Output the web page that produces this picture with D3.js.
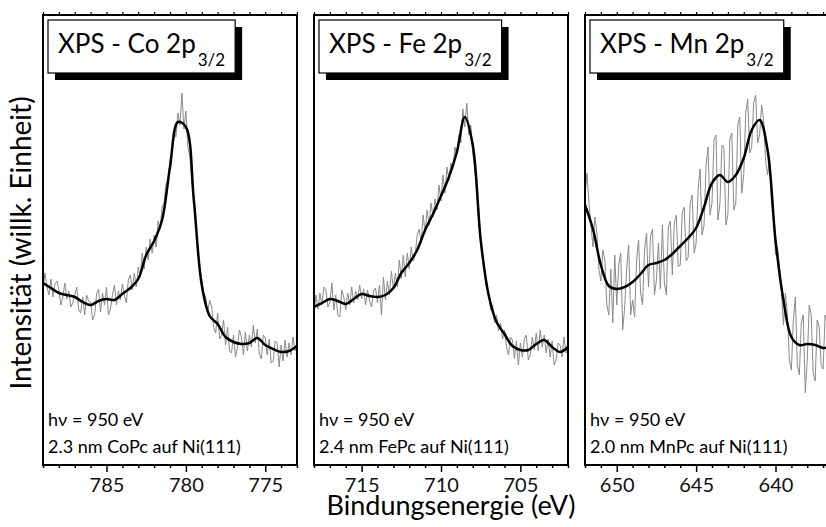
<!DOCTYPE html>
<html>
<head>
<meta charset="utf-8">
<script src="https://cdn.jsdelivr.net/npm/d3@7"></script>
<style>
  html, body { margin: 0; padding: 0; background: #fff; }
  svg { display: block; font-family: Lato, "Open Sans", sans-serif; }
</style>
</head>
<body>
<svg id="chart" width="826" height="527"></svg>
<script>
// ---- spectra: three XPS 2p3/2 core levels, hv = 950 eV ----
const elements = ["Co", "Fe", "Mn"];
const sampleLabels = ["2.3 nm CoPc auf Ni(111)", "2.4 nm FePc auf Ni(111)", "2.0 nm MnPc auf Ni(111)"];
const photonLabel = "hν = 950 eV";
const xTitle = "Bindungsenergie (eV)";
const yTitle = "Intensität (willk. Einheit)";

// binding-energy window of each panel (high -> low)
const energyHigh = [789, 718, 652];
const energyLow  = [773, 702, 636];
const majorTicks = [[785, 780, 775], [715, 710, 705], [650, 645, 640]];

const rawStep = 0.125; // eV, measured points
const fitStep = 0.5;   // eV, smoothed curve

// measured intensity (arb. units), starting at energyHigh
const coRaw = [176,192,178,170,186,168,181,184, 175,160,168,182,166,174,158,162,
  170,178,155,152,168,150,170,164, 163,145,150,171,176,153,172,160,
  178,150,156,170,180,160,174,165, 181,170,162,185,190,175,192,178,
  198,188,212,196,218,205,226,212, 230,218,244,236,258,262,281,285,
  305,312,333,328,352,340,372,336, 354,318,308,282,270,242,220,196,
  186,172,168,152,165,158,138,132, 152,126,130,145,120,138,114,112,
  130,108,118,135,128,110,133,114, 130,118,140,122,136,112,106,130,
  127,110,126,102,104,124,122,98, 120,104,125,108,122,110,128,114, 124];
const coFit = [182,177,172,170,168,163,160,164,166,165,171,177,186,210,224,245,
  298,343,338,265,180,149,141,128,123,121,122,127,120,116,113,114,119];

const feRaw = [150,170,156,172,160,178,175,158, 162,182,155,170,150,148,175,168,
  155,172,160,178,162,174,165,180, 166,176,160,175,164,158,174,177,
  162,180,150,188,165,184,170,194, 176,192,178,205,186,210,188,212,
  196,218,204,210,230,236,222,250, 232,255,240,262,248,266,255,280,
  264,290,272,298,285,302,296,318, 310,330,322,356,338,362,330,340,
  312,296,272,258,222,205,192,176, 172,155,160,142,150,134,142,126,
  135,118,110,128,125,106,124,100, 122,108,126,130,105,110,128,115,
  132,114,135,118,130,112,126,108, 124,100,105,122,120,108,128,112, 122];
const feFit = [158,162,166,164,161,166,171,169,168,170,177,192,202,215,235,251,
  269,288,313,348,320,225,170,143,131,119,115,115,121,125,118,113,118];

const mnRaw = [270,292,262,240,218,248,232,196, 184,215,205,160,150,196,142,210,
  160,200,212,135,158,196,220,150, 165,148,205,225,172,160,215,232,
  178,228,236,170,185,222,176,240, 182,170,238,244,190,242,250,198,
  200,252,258,204,208,262,270,212, 222,275,296,230,240,300,318,250,
  262,325,330,245,262,320,318,240, 250,326,332,255,262,340,348,272,
  290,352,366,312,318,362,370,322, 330,360,345,305,290,308,262,248,
  210,218,198,175,140,172,150,105, 95,145,168,100,90,142,150,72,
  105,160,150,92,84,145,138,100, 96,150,140,102,98,135,140,104, 110];
const mnFit = [260,236,200,179,176,178,183,191,200,202,205,211,219,227,237,258,
  282,290,283,290,307,335,345,315,225,165,128,120,121,120,117,118,118];

const rawSeries = [coRaw, feRaw, mnRaw];
const fitSeries = [coFit, feFit, mnFit];

// ---- layout ----
const svg = d3.select("#chart");
const panelLeft = [43, 314, 585];
const panelWidth = 254;
const plotTop = 15, plotBottom = 465;
const y = d3.scaleLinear().domain([0, 450]).range([plotBottom, plotTop]);

const toPoints = (vals, e0, step) => vals.map((v, i) => ({ e: e0 - i * step, v }));

elements.forEach((el, p) => {
  const x0 = panelLeft[p];
  const x = d3.scaleLinear().domain([energyHigh[p], energyLow[p]]).range([x0, x0 + panelWidth]);
  const g = svg.append("g");

  const clipId = "clip" + p;
  svg.append("clipPath").attr("id", clipId)
    .append("rect").attr("x", x0).attr("y", plotTop).attr("width", panelWidth).attr("height", plotBottom - plotTop);

  const line = d3.line().x(d => x(d.e)).y(d => y(d.v));

  // measured data
  g.append("path")
    .datum(toPoints(rawSeries[p], energyHigh[p], rawStep))
    .attr("clip-path", `url(#${clipId})`)
    .attr("fill", "none").attr("stroke", "#8a8a8a").attr("stroke-width", 1)
    .attr("stroke-linejoin", "round")
    .attr("d", line);

  // smoothed curve
  g.append("path")
    .datum(toPoints(fitSeries[p], energyHigh[p], fitStep))
    .attr("clip-path", `url(#${clipId})`)
    .attr("fill", "none").attr("stroke", "#000").attr("stroke-width", 2.5)
    .attr("stroke-linejoin", "round")
    .attr("d", line.curve(d3.curveCatmullRom.alpha(0.5)));

  // bottom axis: major + minor ticks
  const minor = d3.range(Math.ceil(energyLow[p]), Math.floor(energyHigh[p]) + 1);
  g.append("g").attr("transform", `translate(0,${plotBottom})`)
    .call(d3.axisBottom(x).tickValues(minor.filter(d => !majorTicks[p].includes(d))).tickSize(3).tickFormat(""))
    .call(a => a.select(".domain").remove())
    .call(a => a.selectAll("line").attr("stroke-width", 1.5));
  g.append("g").attr("transform", `translate(0,${plotBottom})`)
    .call(d3.axisBottom(x).tickValues(majorTicks[p]).tickSize(7).tickPadding(6).tickFormat(d3.format("d")))
    .call(a => a.select(".domain").remove())
    .call(a => a.selectAll("line").attr("stroke-width", 1.5))
    .call(a => a.selectAll("text").attr("font-size", 20).attr("fill", "#111")
      .attr("font-family", "Lato, 'Open Sans', sans-serif"));

  // top axis: small outward ticks
  g.append("g").attr("transform", `translate(0,${plotTop})`)
    .call(d3.axisTop(x).tickValues(minor).tickSize(3).tickFormat(""))
    .call(a => a.select(".domain").remove())
    .call(a => a.selectAll("line").attr("stroke-width", 1.2));

  // frame
  g.append("rect").attr("x", x0).attr("y", plotTop).attr("width", panelWidth).attr("height", plotBottom - plotTop)
    .attr("fill", "none").attr("stroke", "#000").attr("stroke-width", 2);

  // title box with drop shadow
  const bx = x0 + 5, by = 20, bh = 53;
  const shadow = g.append("rect");
  const box = g.append("rect");
  const title = g.append("text").attr("x", bx + 10).attr("y", 53)
    .attr("font-size", 26).attr("fill", "#000");
  title.append("tspan").text(`XPS - ${el} 2p`);
  title.append("tspan").attr("dy", 13).attr("dx", 2).attr("font-size", 17).text("3/2");
  const tw = title.node().getBBox().width;
  const bw = tw + 20;
  shadow.attr("x", bx + 7).attr("y", by + 7).attr("width", bw).attr("height", bh).attr("fill", "#000");
  box.attr("x", bx).attr("y", by).attr("width", bw).attr("height", bh)
    .attr("fill", "#fff").attr("stroke", "#000").attr("stroke-width", 1.2);

  // annotations
  g.append("text").attr("x", x0 + 5).attr("y", 426).attr("font-size", 18).text(photonLabel);
  g.append("text").attr("x", x0 + 5).attr("y", 453).attr("font-size", 18).text(sampleLabels[p]);
});

// axis titles
svg.append("text").attr("x", 451).attr("y", 515).attr("text-anchor", "middle")
  .attr("font-size", 27).text(xTitle);
svg.append("text").attr("transform", "translate(31,243) rotate(-90)").attr("text-anchor", "middle")
  .attr("font-size", 28).text(yTitle);
</script>
</body>
</html>
